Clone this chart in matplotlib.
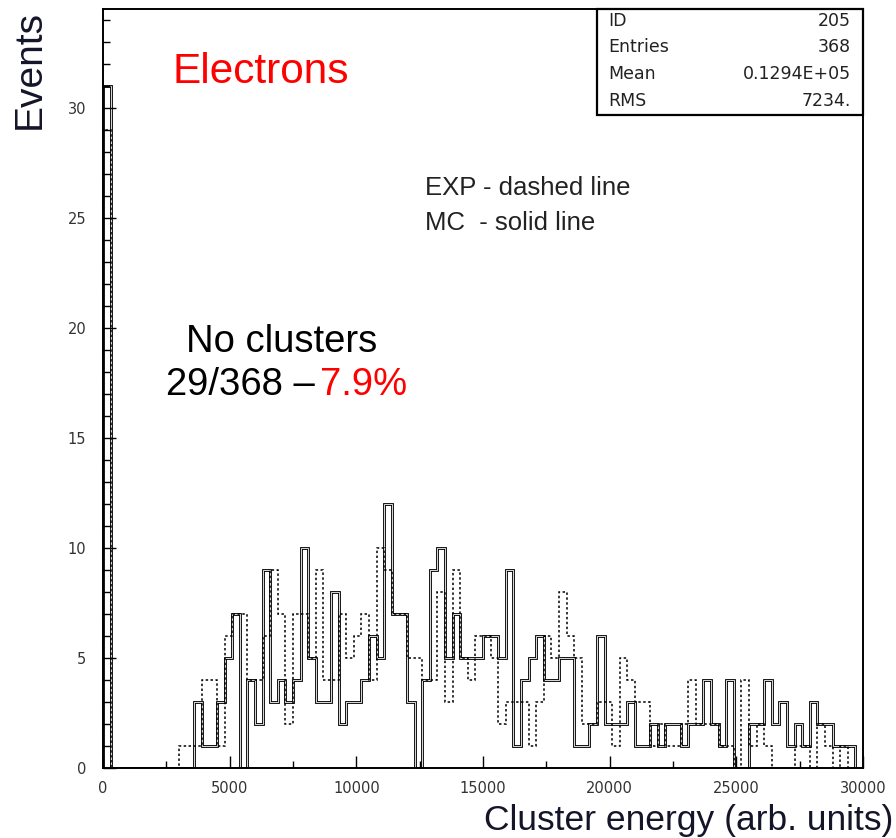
import numpy as np
import matplotlib
matplotlib.use("Agg")
import matplotlib.pyplot as plt
import matplotlib.ticker as mticker
from matplotlib.patches import Rectangle

# ---------------------------------------------------------------------------
# Data: 100 bins of 300 units from 0 to 30000
# ---------------------------------------------------------------------------
X_MIN, X_MAX, N_BINS = 0, 30000, 100

MC_COUNTS = [
    31, 0, 0, 0, 0, 0, 0, 0, 0, 0,
    0, 0, 3, 1, 1, 3, 5, 7, 0, 4,
    2, 9, 3, 4, 3, 4, 10, 5, 3, 3,
    8, 2, 3, 3, 4, 6, 5, 12, 7, 7,
    3, 0, 4, 9, 10, 5, 7, 5, 5, 5,
    6, 6, 5, 9, 1, 4, 5, 6, 4, 4,
    5, 5, 1, 1, 2, 6, 2, 2, 2, 3,
    1, 1, 2, 1, 2, 2, 1, 2, 2, 4,
    2, 1, 4, 0, 0, 2, 2, 4, 2, 3,
    1, 2, 1, 3, 2, 2, 1, 1, 1, 0,
]

EXP_COUNTS = [
    29, 0, 0, 0, 0, 0, 0, 0, 0, 0,
    1, 1, 1, 4, 4, 1, 6, 7, 7, 4,
    4, 6, 9, 7, 2, 7, 7, 5, 9, 4,
    4, 7, 5, 6, 7, 4, 10, 9, 7, 7,
    5, 5, 4, 4, 8, 3, 9, 5, 4, 6,
    6, 5, 2, 3, 3, 3, 1, 3, 6, 5,
    8, 6, 5, 2, 2, 3, 3, 1, 5, 4,
    3, 3, 1, 2, 1, 1, 2, 4, 2, 2,
    2, 1, 1, 0, 4, 1, 2, 1, 0, 0,
    0, 1, 1, 0, 2, 1, 0, 1, 0, 0,
]

STAT_NAMES = ["ID", "Entries", "Mean", "RMS"]
STAT_VALUES = ["205", "368", "0.1294E+05", "7234."]

W, H = 896, 838
SANS = "Liberation Sans"


def fx(px):
    return px / W


def fy(py):
    return 1 - py / H


def main():
    edges = np.linspace(X_MIN, X_MAX, N_BINS + 1)

    fig = plt.figure(figsize=(W / 100, H / 100), dpi=100)
    ax = fig.add_axes([fx(103), fy(768), fx(863) - fx(103), fy(9) - fy(768)])

    # MC: solid outline (looks like a thin double line in the original)
    ax.stairs(MC_COUNTS, edges, baseline=0, color="black", lw=2.0)
    ax.stairs(MC_COUNTS, edges, baseline=0, color="white", lw=0.6)
    # EXP: dotted outline
    ax.stairs(EXP_COUNTS, edges, baseline=0, color="black", lw=1.1,
              linestyle=(0, (1.6, 1.6)))

    ax.set_xlim(X_MIN, X_MAX)
    ax.set_ylim(0, 34.5)

    ax.xaxis.set_major_locator(mticker.MultipleLocator(5000))
    ax.xaxis.set_minor_locator(mticker.MultipleLocator(2500))
    ax.yaxis.set_major_locator(mticker.MultipleLocator(5))
    ax.yaxis.set_minor_locator(mticker.MultipleLocator(1))
    ax.tick_params(which="both", direction="in", top=False, right=False,
                   colors="black", labelcolor="#333333", labelsize=10.5, width=1.0)
    ax.tick_params(which="major", length=9)
    ax.tick_params(which="minor", length=5)
    ax.tick_params(axis="y", pad=12)
    ax.tick_params(axis="x", pad=9)
    for lab in ax.get_xticklabels() + ax.get_yticklabels():
        lab.set_family("DejaVu Sans")
    for s in ax.spines.values():
        s.set_linewidth(1.4)

    # axis titles
    fig.text(fx(30), fy(10), "Events", rotation=90, ha="center", va="top",
             fontsize=28, family=SANS, color="#15152a")
    fig.text(fx(893), fy(820), "Cluster energy (arb. units)", ha="right",
             va="center", fontsize=25.5, family=SANS, color="#15152a")

    # annotations
    fig.text(fx(172), fy(72), "Electrons", ha="left", va="center",
             fontsize=30.5, family=SANS, color="#ff0000")
    fig.text(fx(282), fy(342), "No clusters", ha="center", va="center",
             fontsize=27.5, family=SANS, color="black")
    fig.text(fx(315), fy(385), "29/368 \u2013", ha="right", va="center",
             fontsize=27.5, family=SANS, color="black")
    fig.text(fx(320), fy(385), "7.9%", ha="left", va="center",
             fontsize=27.5, family=SANS, color="#ff0000")
    fig.text(fx(425), fy(188), "EXP - dashed line", ha="left", va="center",
             fontsize=18.5, family=SANS, color="#222222")
    fig.text(fx(425), fy(223), "MC  - solid line", ha="left", va="center",
             fontsize=18.5, family=SANS, color="#222222")

    # statistics box
    fig.patches.append(Rectangle((fx(597), fy(115)), fx(863) - fx(597),
                                 fy(9) - fy(115), transform=fig.transFigure,
                                 fill=True, facecolor="white", edgecolor="black",
                                 lw=1.6, zorder=5))
    for i, (name, val) in enumerate(zip(STAT_NAMES, STAT_VALUES)):
        y = fy(21 + 26.5 * i)
        fig.text(fx(608), y, name, ha="left", va="center", fontsize=12.5,
                 family="DejaVu Sans", color="#222222", zorder=6)
        fig.text(fx(851), y, val, ha="right", va="center", fontsize=12.5,
                 family="DejaVu Sans", color="#222222", zorder=6)

    fig.savefig("out.png", dpi=100)
    plt.close(fig)


if __name__ == "__main__":
    main()
